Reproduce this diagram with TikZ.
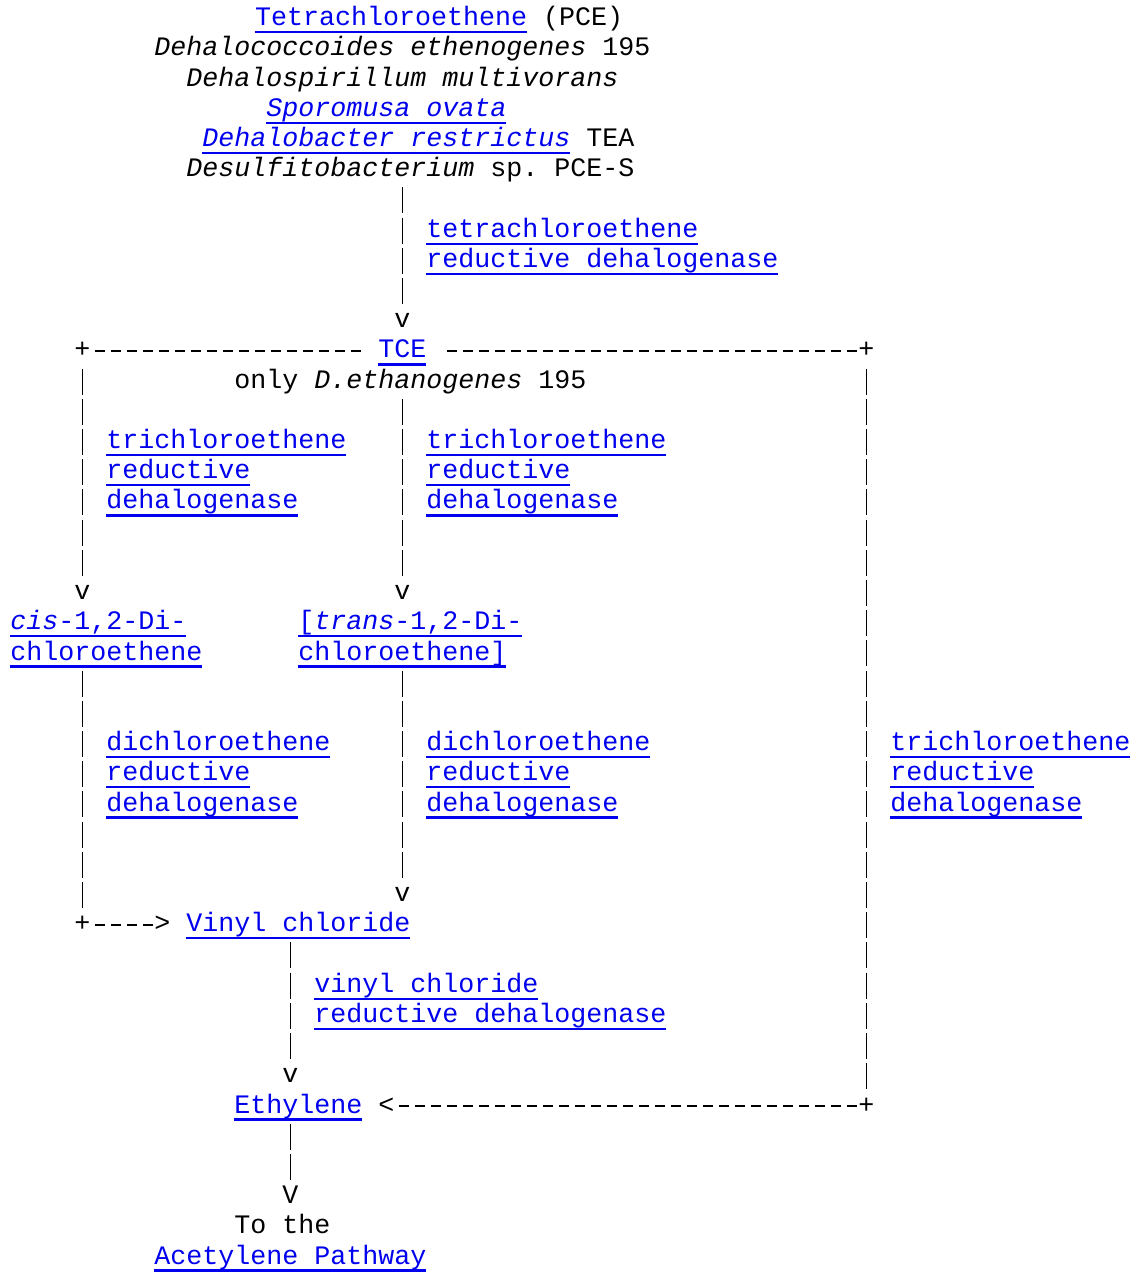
\documentclass[tikz,border=0pt]{standalone}
\usepackage{fontspec}
\setmonofont{Liberation Mono}
\usepackage{tikz}
\definecolor{enlace}{RGB}{0,0,238}
% texto subrayado en azul
\newcommand{\lnk}[1]{{\color{enlace}\setbox0=\hbox{#1}\rlap{\rule[-3.8pt]{\wd0}{1.1pt}}\box0}}
\tikzset{
  txt/.style={anchor=base west, inner sep=0pt, text height=10pt, text depth=3pt,
    font=\ttfamily\fontsize{13.33pt}{15.1pt}\selectfont},
  pipe/.style={line width=0.8pt, dash pattern=on 13pt off 2.1pt, dash phase=13pt},
  dashrun/.style={line width=0.8pt, dash pattern=on 5pt off 3pt, dash phase=6pt}
}

\begin{document}
\begin{tikzpicture}[x=8pt, y=-15.1pt]
    \useasboundingbox (-0.625,-0.854) rectangle (70.25,41.265);

    % PCE y organismos
    \node[txt] (pce) at (15.3,0) {\lnk{Tetrachloroethene} (PCE)};
    \node[txt] (dhc) at (9,1) {\textit{Dehalococcoides ethenogenes} 195};
    \node[txt] (dsp) at (11,2) {\textit{Dehalospirillum multivorans}};
    \node[txt] (spo) at (16,3) {\lnk{\textit{Sporomusa ovata}}};
    \node[txt] (dhb) at (12,4) {\lnk{\textit{Dehalobacter restrictus}} TEA};
    \node[txt] (dsf) at (11,5) {\textit{Desulfitobacterium} sp. PCE-S};
    \node[txt] (pr1) at (26,7) {\lnk{tetrachloroethene}};
    \node[txt] (pr2) at (26,8) {\lnk{reductive dehalogenase}};
    \node[txt] (a1) at (24,10) {v};

    % TCE
    \node[txt] (c1) at (4,11) {+};
    \node[txt, inner xsep=8pt] (tce) at (22,11) {\lnk{TCE}};
    \node[txt] (c2) at (53,11) {+};
    \node[txt] (only) at (14,12) {only \textit{D.ethanogenes} 195};

    % enzimas
    \foreach \nm/\c/\r/\sub in {tl/6/14/trichloroethene, tm/26/14/trichloroethene,
        dl/6/24/dichloroethene, dm/26/24/dichloroethene, tr/55/24/trichloroethene}{
        \node[txt] (\nm1) at (\c,\r) {\lnk{\sub}};
        \node[txt] (\nm2) at (\c,\r+1) {\lnk{reductive}};
        \node[txt] (\nm3) at (\c,\r+2) {\lnk{dehalogenase}};
    }

    % DCE
    \node[txt] (a2) at (4,19) {v};
    \node[txt] (a3) at (24,19) {v};
    \node[txt] (cis1) at (0,20) {\lnk{\textit{cis}-1,2-Di-}};
    \node[txt] (cis2) at (0,21) {\lnk{chloroethene}};
    \node[txt] (trans1) at (18,20) {\lnk{[\textit{trans}-1,2-Di-}};
    \node[txt] (trans2) at (18,21) {\lnk{chloroethene]}};
    \node[txt] (a4) at (24,29) {v};

    % VC
    \node[txt] (c3) at (4,30) {+};
    \node[txt] (gt) at (9,30) {>};
    \node[txt] (vc) at (11,30) {\lnk{Vinyl chloride}};
    \node[txt] (vr1) at (19,32) {\lnk{vinyl chloride}};
    \node[txt] (vr2) at (19,33) {\lnk{reductive dehalogenase}};
    \node[txt] (a5) at (17,35) {v};

    % etileno
    \node[txt] (eth) at (14,36) {\lnk{Ethylene}};
    \node[txt] (lt) at (23,36) {<};
    \node[txt] (c4) at (53,36) {+};
    \node[txt] (a6) at (17,39) {V};
    \node[txt] (to1) at (14,40) {To the};
    \node[txt] (to2) at (9,41) {\lnk{Acetylene Pathway}};

    % lineas verticales
    \draw[pipe] (a1 |- dsf.south) -- (a1.north);
    \draw[pipe] (c1.south) -- (a2.north);
    \draw[pipe] (a3 |- only.south) -- (a3.north);
    \draw[pipe] (c2.south) -- (c4.north);
    \draw[pipe] (c3 |- cis2.south) -- (c3.north);
    \draw[pipe] (a4 |- trans2.south) -- (a4.north);
    \draw[pipe] (a5 |- vc.south) -- (a5.north);
    \draw[pipe] (a6 |- eth.south) -- (a6.north);

    % lineas horizontales
    \draw[dashrun] (c1.east) -- (tce.west);
    \draw[dashrun] (tce.east) -- (c2.west);
    \draw[dashrun] (c3.east) -- (gt.west);
    \draw[dashrun] (lt.east) -- (c4.west);
\end{tikzpicture}
\end{document}
